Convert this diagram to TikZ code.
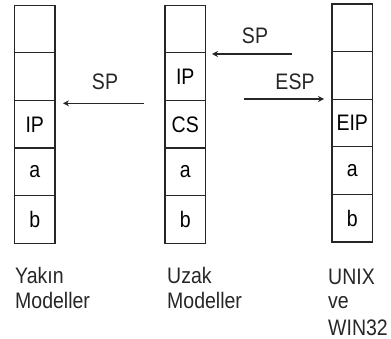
\documentclass[tikz,border=0pt]{standalone}
\usepackage{fontspec}
\usepackage{graphicx}
\setmainfont{Liberation Sans}
\usetikzlibrary{arrows.meta}
\newcommand{\tall}[1]{\scalebox{1}[1.15]{#1}}
\tikzset{
  cell/.style={draw=black!85, line width=1.2pt, minimum width=40.5pt, minimum height=47.6pt, inner sep=0pt, font=\fontsize{19.5}{24}\selectfont},
  txt/.style={inner sep=0pt, font=\fontsize{19.5}{24}\selectfont, text=black!85},
  arr/.style={draw=black!85, line width=1.2pt, -{Stealth[length=6pt,width=6pt]}}
}
\begin{document}
\begin{tikzpicture}[x=1pt,y=-1pt]
\useasboundingbox (0,0) rectangle (391,339);
% left stack
\node[cell] (L1) at (34.75,29.1) {};
\node[cell] (L2) at (34.75,76.7) {};
\node[cell] (L3) at (34.75,124.3) {\tall{IP}};
\node[cell] (L4) at (34.75,171.9) {\tall{a}};
\node[cell] (L5) at (34.75,219.5) {\tall{b}};
% middle stack
\node[cell] (M1) at (185.25,29.1) {};
\node[cell] (M2) at (185.25,76.7) {\tall{IP}};
\node[cell] (M3) at (185.25,124.3) {\tall{CS}};
\node[cell] (M4) at (185.25,171.9) {\tall{a}};
\node[cell] (M5) at (185.25,219.5) {\tall{b}};
% right stack
\node[cell] (R1) at (352.25,27.8) {};
\node[cell] (R2) at (352.25,75.4) {};
\node[cell] (R3) at (352.25,123.0) {\tall{EIP}};
\node[cell] (R4) at (352.25,170.6) {\tall{a}};
\node[cell] (R5) at (352.25,218.2) {\tall{b}};
% arrows
\coordinate (a1s) at (144,103.3);
\coordinate (a1e) at (63,103.3);
\coordinate (a2s) at (292,54);
\coordinate (a2e) at (212,54);
\coordinate (a3s) at (244,99);
\coordinate (a3e) at (324,99);
\draw[arr] (a1s) -- (a1e);
\draw[arr] (a2s) -- (a2e);
\draw[arr] (a3s) -- (a3e);
\node[txt, anchor=base] (sp1) at (105,90) {\tall{SP}};
\node[txt, anchor=base] (sp2) at (255,43.3) {\tall{SP}};
\node[txt, anchor=base] (esp) at (295,90) {\tall{ESP}};
% captions
\node[txt, anchor=base west] (y1) at (15,283.5) {\tall{Yakın}};
\node[txt, anchor=base west] (y2) at (15,308) {\tall{Modeller}};
\node[txt, anchor=base west] (u1) at (167,283.5) {\tall{Uzak}};
\node[txt, anchor=base west] (u2) at (167,308) {\tall{Modeller}};
\node[txt, anchor=base west] (w1) at (328,284) {\tall{UNIX}};
\node[txt, anchor=base west] (w2) at (328,308.3) {\tall{ve}};
\node[txt, anchor=base west] (w3) at (328,335.5) {\tall{WIN32}};
\end{tikzpicture}
\end{document}
